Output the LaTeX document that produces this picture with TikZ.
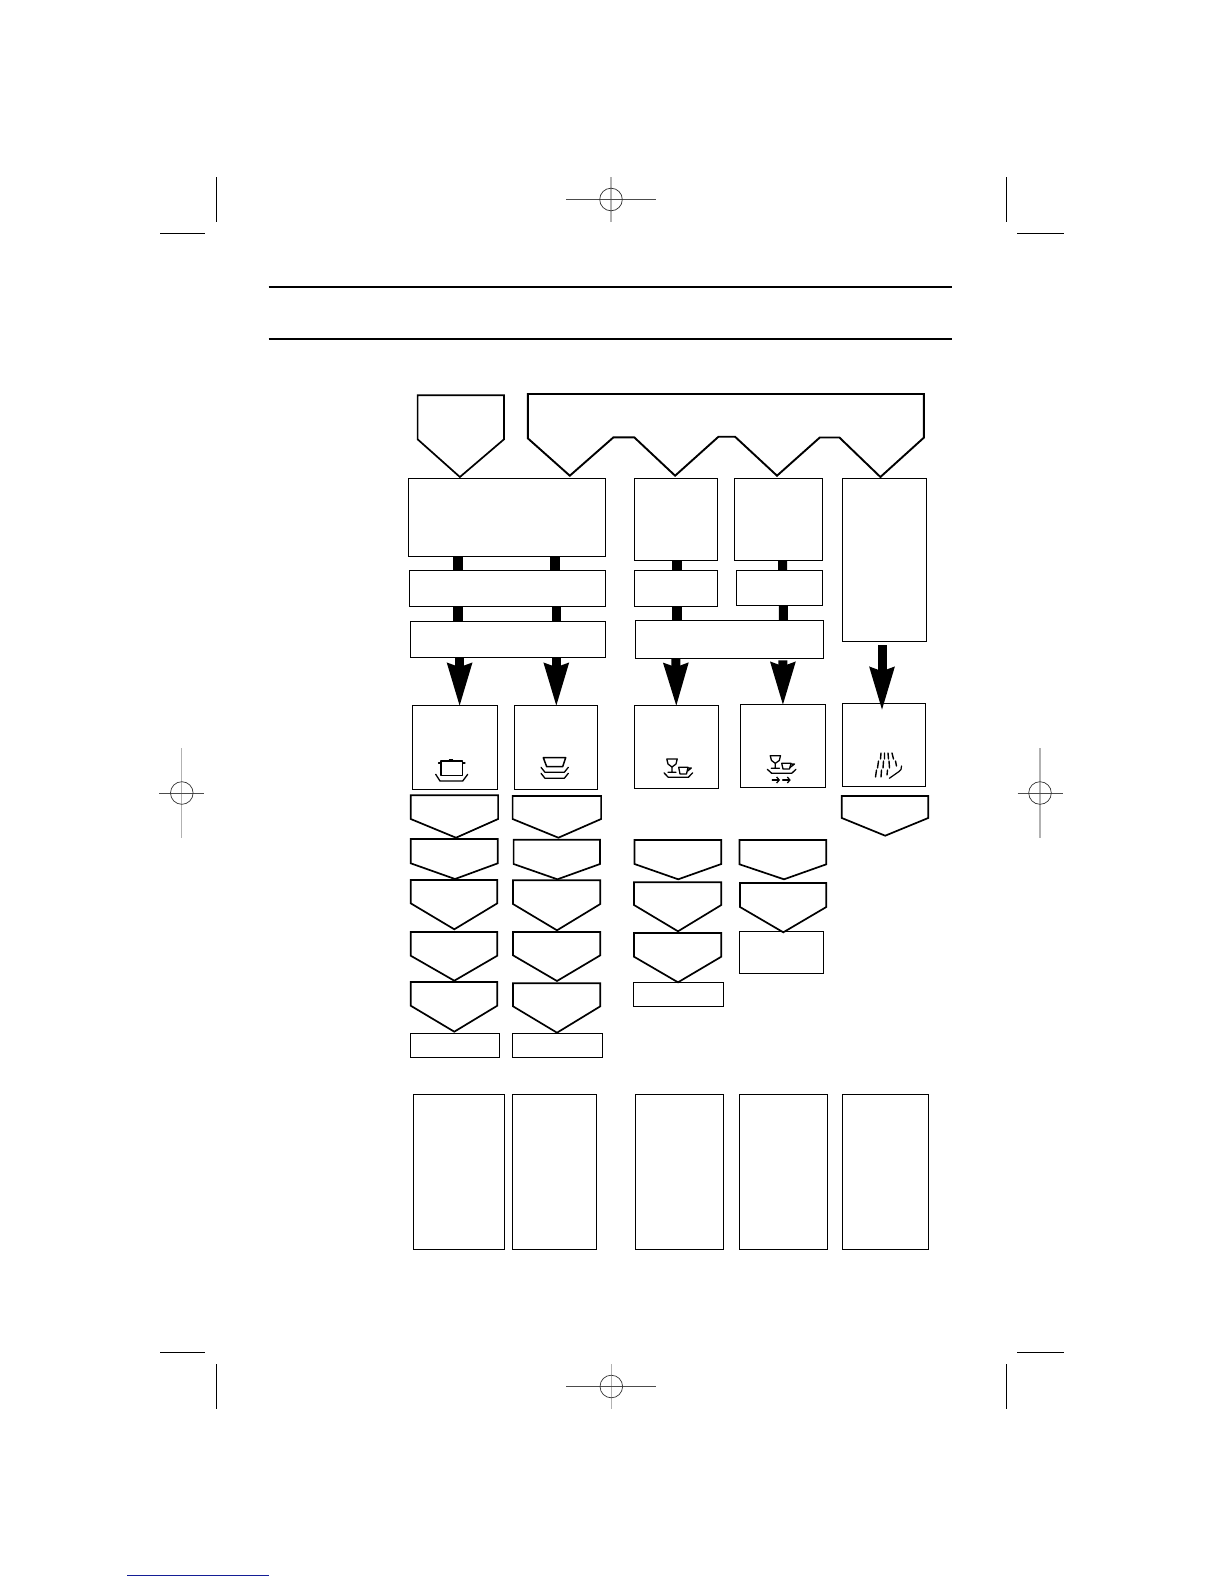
\documentclass[tikz,border=0pt]{standalone}
\usetikzlibrary{arrows.meta}
\definecolor{linkblue}{RGB}{20,30,150}
\tikzset{
  panel/.style={draw, line width=1.1pt, inner sep=0pt, outer sep=0pt},
  pent/.style={draw, line width=1.7pt, line join=miter},
  stem/.style={line width=10pt},
  stemthin/.style={line width=9pt},
  bigarrow/.style={-{Stealth[length=43pt,width=23pt,inset=3pt]}, line width=9pt},
  glyph/.style={line width=1.3pt, line cap=round, line join=round},
  trim/.style={line width=1pt},
  regdark/.style={line width=.9pt, black!70},
  reglight/.style={line width=1.1pt, black!30},
}
\begin{document}
\begin{tikzpicture}[x=1pt, y=-1pt]
\useasboundingbox (0,0) rectangle (1224,1584);
% trim marks
\draw[trim] (216.4,177) -- (216.4,222);
\draw[trim] (160,233) -- (205,233);
\draw[trim] (1006,177) -- (1006,222);
\draw[trim] (1017,233) -- (1063.5,233);
\draw[trim] (216.4,1364) -- (216.4,1409);
\draw[trim] (160,1352) -- (205,1352);
\draw[trim] (1006,1364) -- (1006,1409);
\draw[trim] (1017,1352) -- (1063.5,1352);
% registration marks
\foreach \cx/\cy in {611/199.5, 611.3/1386.5} {
  \draw[reglight] (\cx,\cy-22.5) -- (\cx,\cy+22.5);
  \draw[regdark] (\cx-45,\cy) -- (\cx+45,\cy);
  \draw[line width=.7pt, black!80] (\cx,\cy) circle (11.3);
}
\foreach \cx/\cy in {181.8/793, 1040/793} {
  \draw[reglight] (\cx,\cy-45) -- (\cx,\cy+45);
  \draw[regdark] (\cx-22.5,\cy) -- (\cx+22.5,\cy);
  \draw[line width=.7pt, black!80] (\cx,\cy) circle (11.3);
}
\draw[linkblue, line width=1pt] (127,1575.3) -- (269,1575.3);
% header rules
\draw[line width=2pt] (268.6,286.7) -- (952.3,286.7);
\draw[line width=2pt] (268.6,339) -- (952.3,339);
% top pointers
\draw[pent] (417.6,395.3) -- (504,395.3) -- (504,439.3) -- (459.9,477) -- (417.6,439.3) -- cycle;
\draw[pent, line width=1.9pt] (527.8,394) -- (923.8,394) -- (923.8,437.7) -- (880.4,477) -- (839.4,437.5) -- (819.8,437.5)
  -- (777,475.7) -- (735,436.7) -- (718.5,436.7) -- (675.1,475.7) -- (634.2,437.3) -- (613.5,437.3) -- (569.8,475.7) -- (527.8,438.3) -- cycle;
% boxes
\node[panel, minimum width=197.3pt, minimum height=78pt] (a1) at (507,517.3) {};
\node[panel, minimum width=82.9pt, minimum height=82pt] (a2) at (675.7,519.3) {};
\node[panel, minimum width=88.1pt, minimum height=82pt] (a3) at (778.4,519.3) {};
\node[panel, minimum width=84.4pt, minimum height=163pt] (a4) at (884.3,559.8) {};
\node[panel, minimum width=196.3pt, minimum height=36pt] (b1) at (507.5,588.3) {};
\node[panel, minimum width=82.9pt, minimum height=36pt] (b2) at (675.7,588.3) {};
\node[panel, minimum width=86.1pt, minimum height=35pt] (b3) at (779.5,587.8) {};
\node[panel, minimum width=195.3pt, minimum height=36pt] (c1) at (508,639.3) {};
\node[panel, minimum width=188.4pt, minimum height=38pt] (c2) at (729.4,639.3) {};
\node[panel, minimum width=85.4pt, minimum height=84pt] (d1) at (455.1,747.3) {};
\node[panel, minimum width=83.4pt, minimum height=84pt] (d2) at (556,747.3) {};
\node[panel, minimum width=84.3pt, minimum height=83pt] (d3) at (676.4,746.8) {};
\node[panel, minimum width=85.1pt, minimum height=83pt] (d4) at (782.8,745.8) {};
\node[panel, minimum width=83.4pt, minimum height=83pt] (d5) at (883.8,744.8) {};
\node[panel, minimum width=88.6pt, minimum height=24pt] (j1) at (455,1045.3) {};
\node[panel, minimum width=89.6pt, minimum height=24pt] (j2) at (557.5,1045.3) {};
\node[panel, minimum width=89.6pt, minimum height=23.6pt] (j3) at (678.5,994.5) {};
\node[panel, minimum width=84pt, minimum height=42pt] (h4) at (781.3,952.3) {};
\node[panel, minimum width=91pt, minimum height=155pt] (k1) at (459,1172) {};
\node[panel, minimum width=84pt, minimum height=155pt] (k2) at (554.5,1172) {};
\node[panel, minimum width=88pt, minimum height=155pt] (k3) at (679.5,1172) {};
\node[panel, minimum width=88pt, minimum height=155pt] (k4) at (783.5,1172) {};
\node[panel, minimum width=86pt, minimum height=155pt] (k5) at (885.5,1172) {};
% stems between the boxes
\draw[stem] ([xshift=-48.8pt]a1.south) -- ([xshift=-49.3pt]b1.north);
\draw[stem] ([xshift=47.6pt]a1.south) -- ([xshift=47.1pt]b1.north);
\draw[stem] ([xshift=-49.3pt]b1.south) -- ([xshift=-49.8pt]c1.north);
\draw[stemthin] ([xshift=48.8pt]b1.south) -- ([xshift=48.3pt]c1.north);
\draw[stem] ([xshift=1.2pt]a2.south) -- ([xshift=1.2pt]b2.north);
\draw[stemthin] ([xshift=4.2pt]a3.south) -- ([xshift=3.1pt]b3.north);
\draw[stem] ([xshift=1.2pt]b2.south) -- ([xshift=-52.5pt]c2.north);
\draw[stemthin] ([xshift=3.8pt]b3.south) -- ([xshift=53.9pt]c2.north);
% big arrows
\draw[bigarrow] ([xshift=-48.4pt]c1.south) -- ([xshift=4.5pt,yshift=-2pt]d1.north);
\draw[bigarrow] ([xshift=48.3pt]c1.south) -- ([xshift=.3pt,yshift=-2pt]d2.north);
\draw[bigarrow] ([xshift=-53.6pt]c2.south) -- ([xshift=-.1pt,yshift=-2pt]d3.north);
\draw[bigarrow] ([xshift=53.5pt,yshift=-2pt]c2.south) -- ([xshift=.1pt,yshift=-2pt]d4.north);
\draw[bigarrow] ([xshift=-2.3pt,yshift=-4pt]a4.south) -- ([xshift=-1.8pt,yshift=-8pt]d5.north);
% pointers under the boxes
\draw[pent] (410.7,795.3) -- (498.1,795.3) -- (498.1,819) -- (456,837.7) -- (410.7,819) -- cycle;
\draw[pent] (512.6,796) -- (601.1,796) -- (601.1,819) -- (558.4,837.7) -- (512.6,819) -- cycle;
\draw[pent] (841.8,796) -- (928.2,796) -- (928.2,818) -- (885.2,835.7) -- (841.8,818) -- cycle;
\draw[pent] (410.7,839) -- (497.8,839) -- (497.8,863.3) -- (455,879) -- (410.7,863.3) -- cycle;
\draw[pent] (513.6,839.7) -- (600,839.7) -- (600,864) -- (557.4,879.3) -- (513.6,864) -- cycle;
\draw[pent] (634.5,840) -- (721.3,840) -- (721.3,864) -- (678.2,879.3) -- (634.5,864) -- cycle;
\draw[pent] (739.5,840) -- (826.3,840) -- (826.3,864.3) -- (784,879.3) -- (739.5,864.3) -- cycle;
\draw[pent] (410.7,880) -- (497.3,880) -- (497.3,903.3) -- (454.3,929.3) -- (410.7,903.3) -- cycle;
\draw[pent] (513,880.3) -- (600.3,880.3) -- (600.3,904) -- (557,930.3) -- (513,904) -- cycle;
\draw[pent] (634,882.3) -- (721.3,882.3) -- (721.3,905) -- (678,931.3) -- (634,905) -- cycle;
\draw[pent] (740,883) -- (826.3,883) -- (826.3,907) -- (783.3,932.3) -- (740,907) -- cycle;
\draw[pent] (410.7,932) -- (497.3,932) -- (497.3,955.7) -- (454.3,980.7) -- (410.7,955.7) -- cycle;
\draw[pent] (513,932) -- (600.3,932) -- (600.3,955.3) -- (557,981) -- (513,955.3) -- cycle;
\draw[pent] (634,933) -- (721.3,933) -- (721.3,956.7) -- (678,982.3) -- (634,956.7) -- cycle;
\draw[pent] (410.7,982) -- (497.3,982) -- (497.3,1005.7) -- (454.3,1031.7) -- (410.7,1005.7) -- cycle;
\draw[pent] (513,983.3) -- (600.3,983.3) -- (600.3,1006.3) -- (557,1032.7) -- (513,1006.3) -- cycle;
% pot
\draw[glyph, line width=1.5pt] (441,761) rectangle (462.5,775.5);
\draw[glyph] (438.5,763) -- (441,763) (462.5,763) -- (465,763) (449.5,759.5) -- (452.5,759.5);
\draw[glyph] (435.7,774.3) -- (440,781) -- (462.7,781) -- (467.7,774.3);
% dishes
\draw[glyph, line width=1.5pt] (543.3,757.7) -- (565.7,757.7) -- (562.7,766.7) -- (546.7,766.7) -- cycle;
\draw[glyph] (541,767.3) -- (545,772.3) -- (564.3,772.3) -- (568.3,767.3);
\draw[glyph] (541,773.3) -- (545,778.3) -- (564.3,778.3) -- (568.3,773.3);
% glass and cup
\draw[glyph] (666.8,759) -- (677.2,759) -- (676,764) -- (672,767) -- (668,764) -- cycle (672,767) -- (672,772.3) (668,772.3) -- (676,772.3);
\draw[glyph] (678.7,767.3) -- (688,767.3) -- (686.5,774) -- (680,774) -- cycle (688,768) -- (691.3,768) -- (687,771.5);
\draw[glyph] (664,772.8) -- (668.3,777.3) -- (688.3,777.3) -- (692.7,772.8);
% glass, cup and arrows
\draw[glyph] (770.2,755.7) -- (780.5,755.7) -- (779.3,760.5) -- (775.3,763.3) -- (771.5,760.5) -- cycle (775.3,763.3) -- (775.3,768.3) (771.3,768.3) -- (779.5,768.3);
\draw[glyph] (781.7,763.3) -- (791,763.3) -- (789.5,769) -- (783,769) -- cycle (791,764) -- (794.5,764) -- (790,767.5);
\draw[glyph] (767.3,769.3) -- (771.7,773.3) -- (791.7,773.3) -- (796,769.3);
\draw[glyph, -{Straight Barb[length=2.5pt,width=6pt]}] (772.3,780) -- (780,780);
\draw[glyph, -{Straight Barb[length=2.5pt,width=6pt]}] (782.7,780) -- (790.7,780);
% spray
\draw[glyph, line width=1.4pt] (881,753) -- (880.5,759) (884.5,753) -- (884.5,759) (888,753) -- (888.5,759) (892,753) -- (893.5,759);
\draw[glyph, line width=1.4pt] (878.5,761) -- (877.5,768) (883.5,761) -- (883,768) (889,761) -- (889.5,768) (895.5,761) -- (896.5,766);
\draw[glyph, line width=1.4pt] (876.5,770) -- (875.5,777) (881.5,770) -- (881,777) (887.5,770) -- (887,775);
\draw[glyph, line width=1.2pt] (901.5,766) .. controls (902,769) and (900.5,770.5) .. (899,771.5) -- (889.3,778.3);
\end{tikzpicture}
\end{document}
